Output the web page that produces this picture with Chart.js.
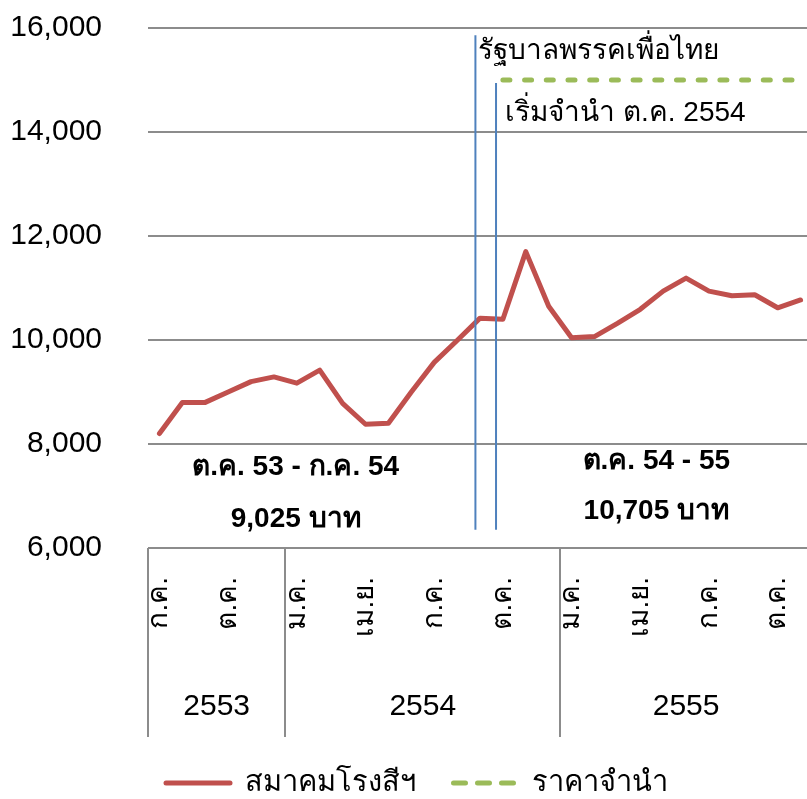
<!DOCTYPE html>
<html><head><meta charset="utf-8">
<script src="https://cdn.jsdelivr.net/npm/chart.js@4.4.0/dist/chart.umd.min.js"></script>
<style>
html,body{margin:0;padding:0;background:#fff;overflow:hidden;width:807px;height:799px}
#wrap{width:812px;height:799px;position:relative}
</style>
</head><body><div id="wrap"><canvas id="c" width="812" height="799"></canvas></div>
<script>
// ---- data ----
const months = ['2553-07','2553-08','2553-09','2553-10','2553-11','2553-12',
  '2554-01','2554-02','2554-03','2554-04','2554-05','2554-06','2554-07','2554-08','2554-09','2554-10','2554-11','2554-12',
  '2555-01','2555-02','2555-03','2555-04','2555-05','2555-06','2555-07','2555-08','2555-09','2555-10','2555-11'];
const tickLabels = ['ก.ค.','','','ต.ค.','','',
  'ม.ค.','','','เม.ย.','','','ก.ค.','','','ต.ค.','','',
  'ม.ค.','','','เม.ย.','','','ก.ค.','','','ต.ค.',''];
const millPrice = [8200,8800,8800,9000,9200,9290,9170,9420,8780,8380,8400,9000,9570,9990,10420,10400,11700,10650,10045,10065,10320,10590,10940,11190,10940,10850,10870,10620,10770];
const pledgePrice = [null,null,null,null,null,null,null,null,null,null,null,null,null,null,null,
  15000,15000,15000,15000,15000,15000,15000,15000,15000,15000,15000,15000,15000,15000];
const seriesNames = ['สมาคมโรงสีฯ','ราคาจำนำ'];
const years = ['2553','2554','2555'];
const yearStartIndex = [0,6,18];
const yTicks = [6000,8000,10000,12000,14000,16000];
// annotation markers (category index, value range)
const govLine = {index:13.8, from:6350, to:15860};
const pledgeLine = {index:14.7, from:6350, to:14940};
const notes = [
  {text:'รัฐบาลพรรคเพื่อไทย', index:13.93, value:15560, align:'left', bold:false},
  {text:'เริ่มจำนำ ต.ค. 2554', index:15.1, value:14360, align:'left', bold:false},
  {text:'ต.ค. 53 - ก.ค. 54', index:5.95, value:7560, align:'center', bold:true},
  {text:'9,025 บาท', index:5.95, value:6560, align:'center', bold:true},
  {text:'ต.ค. 54 - 55', index:21.7, value:7660, align:'center', bold:true},
  {text:'10,705 บาท', index:21.7, value:6700, align:'center', bold:true}
];

const FONT = "'Liberation Sans', Arial, 'Noto Sans', sans-serif";

const overlay = {
  id:'overlay',
  afterLayout(chart){
    if (chart.legend) { chart.legend.left += 11; chart.legend.right += 11; }
  },
  afterDraw(chart){
    const ctx = chart.ctx, xs = chart.scales.x, ys = chart.scales.y, ca = chart.chartArea;
    ctx.save();
    // year group separators
    ctx.strokeStyle = '#8c8c8c'; ctx.lineWidth = 2;
    const bounds = yearStartIndex.map(i => xs.getPixelForValue(i - 0.5));
    bounds.forEach(x => { ctx.beginPath(); ctx.moveTo(Math.round(x), ca.bottom); ctx.lineTo(Math.round(x), ca.bottom + 189); ctx.stroke(); });
    const lastEdge = xs.getPixelForValue(months.length - 0.5);
    ctx.fillStyle = '#000'; ctx.font = '30px ' + FONT; ctx.textAlign = 'center'; ctx.textBaseline = 'middle';
    years.forEach((y, k) => {
      const a = bounds[k], b = k + 1 < bounds.length ? bounds[k+1] : lastEdge;
      ctx.fillText(y, (a + b) / 2, ca.bottom + 159);
    });
    // blue markers
    ctx.strokeStyle = '#4F81BD'; ctx.lineWidth = 2;
    [govLine, pledgeLine].forEach(l => {
      const x = xs.getPixelForValue(l.index);
      ctx.beginPath(); ctx.moveTo(x, ys.getPixelForValue(l.to)); ctx.lineTo(x, ys.getPixelForValue(l.from)); ctx.stroke();
    });
    // text notes
    notes.forEach(n => {
      ctx.font = (n.bold ? 'bold ' : '') + '28px ' + FONT;
      ctx.textAlign = n.align; ctx.textBaseline = 'middle'; ctx.fillStyle = '#000';
      ctx.fillText(n.text, xs.getPixelForValue(n.index), ys.getPixelForValue(n.value));
    });
    ctx.restore();
  }
};

new Chart(document.getElementById('c'), {
  type:'line',
  data:{
    labels: months,
    datasets:[
      {label:seriesNames[0], data:millPrice, borderColor:'#C0504D', backgroundColor:'#C0504D', borderWidth:5,
       pointRadius:0, pointStyle:'line', tension:0, borderJoinStyle:'round', borderCapStyle:'round'},
      {label:seriesNames[1], data:pledgePrice, borderColor:'#9BBB59', backgroundColor:'#9BBB59', borderWidth:5,
       borderDash:[7,14.7], borderCapStyle:'round', pointRadius:0, pointStyle:'line', tension:0, spanGaps:false}
    ]
  },
  options:{
    responsive:false, animation:false, devicePixelRatio:1,
    layout:{autoPadding:false, padding:{top:28, bottom:-8.5, left:0, right:0}},
    plugins:{
      legend:{position:'bottom',
        labels:{usePointStyle:true, pointStyleWidth:64, padding:38, color:'#000', font:{family:FONT, size:29},
          generateLabels(chart){
            return chart.data.datasets.map((ds, i) => ({
              text: ds.label, datasetIndex: i, fillStyle: ds.borderColor, strokeStyle: ds.borderColor,
              lineWidth: ds.borderWidth, lineDash: i === 1 ? [12, 12] : [], lineDashOffset: 0,
              lineCap: 'round', pointStyle: 'line', hidden: false, fontColor: '#000'
            }));
          }}},
      tooltip:{enabled:false}
    },
    scales:{
      x:{type:'category', offset:true,
        grid:{display:false, drawTicks:false}, border:{display:false},
        ticks:{autoSkip:false, maxRotation:90, minRotation:90, padding:29, color:'#000', font:{family:FONT, size:28},
          callback:(v, i) => tickLabels[i]},
        afterFit(s){ s.height = 182.5; s.paddingLeft = 0; s.paddingRight = 0; }
      },
      y:{min:6000, max:16000,
        afterBuildTicks(s){ s.ticks = yTicks.map(v => ({value:v})); },
        grid:{color:'#8c8c8c', lineWidth:2, drawTicks:false}, border:{display:false},
        ticks:{padding:46, color:'#000', font:{family:FONT, size:30}, callback:v => v.toLocaleString('en-US')},
        afterFit(s){ s.width = 148; s.paddingTop = 0; s.paddingBottom = 0; }
      }
    }
  },
  plugins:[overlay]
});
</script>
</body></html>
